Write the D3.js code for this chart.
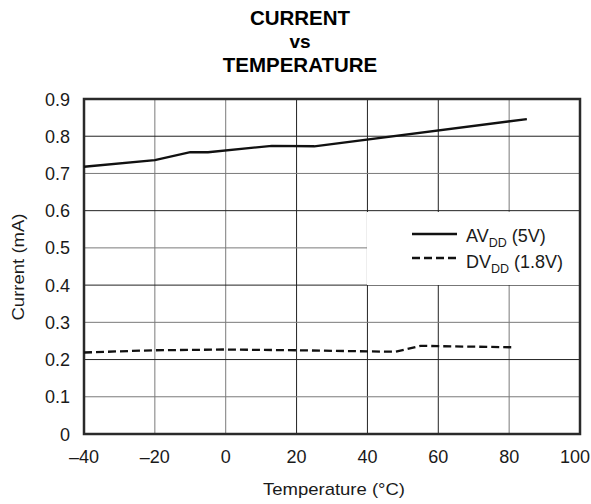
<!DOCTYPE html>
<html><head><meta charset="utf-8">
<script src="https://cdn.jsdelivr.net/npm/d3@7"></script>
<style>body{margin:0;background:#fff}svg{display:block}</style>
</head><body>
<svg id="c" width="591" height="504"></svg>
<script>
const titleLines = ["CURRENT", "vs", "TEMPERATURE"];
const xTicks = [-40, -20, 0, 20, 40, 60, 80, 100];
const yTicks = [0, 0.1, 0.2, 0.3, 0.4, 0.5, 0.6, 0.7, 0.8, 0.9];
const avddTemp = [-40, -20, -10, -5, 13, 25, 85];
const avddCurrent = [0.718, 0.736, 0.757, 0.757, 0.774, 0.773, 0.846];
const dvddTemp = [-40, -20, 0, 20, 40, 48, 55, 60, 81];
const dvddCurrent = [0.219, 0.225, 0.227, 0.225, 0.222, 0.221, 0.237, 0.236, 0.233];

const svg = d3.select("#c");
const m = {l: 84, r: 580, t: 99, b: 434};
const x = d3.scaleLinear().domain([-40, 100]).range([m.l, m.r]);
const y = d3.scaleLinear().domain([0, 0.9]).range([m.b, m.t]);
const font = "'Liberation Sans', Arial, sans-serif";
const ink = "#1a1a1a";

// title
const titleY = [25, 48, 72];
svg.selectAll("text.title").data(titleLines).enter().append("text")
  .attr("x", 300).attr("y", (d, i) => titleY[i])
  .attr("text-anchor", "middle").attr("font-family", font)
  .attr("font-weight", "bold").attr("font-size", (d, i) => i === 1 ? 19 : 20.5)
  .attr("fill", "#000").text(d => d);

// grid
const g = svg.append("g");
g.selectAll("line.vx").data(xTicks.slice(1, -1)).enter().append("line")
  .attr("x1", d => x(d)).attr("x2", d => x(d)).attr("y1", m.t).attr("y2", m.b)
  .attr("stroke", (d, i) => (i < 2 || i === 5) ? "#7a7a7a" : "#222").attr("stroke-width", 1);
g.selectAll("line.hy").data(yTicks.slice(1, -1)).enter().append("line")
  .attr("y1", d => y(d)).attr("y2", d => y(d)).attr("x1", m.l).attr("x2", m.r)
  .attr("stroke", (d, i) => (i % 2 === 1) ? "#222" : "#7a7a7a").attr("stroke-width", 1);

// legend box (covers grid)
svg.append("rect").attr("x", 367).attr("y", 212).attr("width", m.r - 367).attr("height", 73)
  .attr("fill", "#fff");

// frame
svg.append("rect").attr("x", m.l).attr("y", m.t).attr("width", m.r - m.l).attr("height", m.b - m.t)
  .attr("fill", "none").attr("stroke", "#2a2a2a").attr("stroke-width", 2.5);

// lines
const line = d3.line().x(d => x(d[0])).y(d => y(d[1]));
svg.append("path").datum(avddTemp.map((t, i) => [t, avddCurrent[i]]))
  .attr("d", line).attr("fill", "none").attr("stroke", "#111").attr("stroke-width", 2.3);
svg.append("path").datum(dvddTemp.map((t, i) => [t, dvddCurrent[i]]))
  .attr("d", line).attr("fill", "none").attr("stroke", "#111").attr("stroke-width", 2.3)
  .attr("stroke-dasharray", "8,4");

// axes labels
svg.selectAll("text.xt").data(xTicks).enter().append("text")
  .attr("x", (d, i) => i === xTicks.length - 1 ? 590 : x(d)).attr("y", 463)
  .attr("text-anchor", (d, i) => i === xTicks.length - 1 ? "end" : "middle")
  .attr("font-family", font).attr("font-size", 18).attr("fill", ink)
  .text(d => d < 0 ? "\u2013" + Math.abs(d) : d);
svg.selectAll("text.yt").data(yTicks).enter().append("text")
  .attr("x", 70).attr("y", d => y(d) + 6.5).attr("text-anchor", "end")
  .attr("font-family", font).attr("font-size", 18).attr("fill", ink)
  .text(d => d === 0 ? "0" : d.toFixed(1));
svg.append("text").attr("x", 334).attr("y", 495).attr("text-anchor", "middle")
  .attr("font-family", font).attr("font-size", 17).attr("fill", ink)
  .attr("textLength", 142).attr("lengthAdjust", "spacingAndGlyphs")
  .text("Temperature (\u00B0C)");
svg.append("text").attr("transform", "translate(24,267) rotate(-90)").attr("text-anchor", "middle")
  .attr("font-family", font).attr("font-size", 17).attr("fill", ink)
  .attr("textLength", 107).attr("lengthAdjust", "spacingAndGlyphs")
  .text("Current (mA)");

// legend
const leg = [
  {main: "AV", sub: "DD", rest: " (5V)", dash: null, y: 234, tb: 242},
  {main: "DV", sub: "DD", rest: " (1.8V)", dash: "8,4", y: 258, tb: 268}
];
leg.forEach(l => {
  svg.append("line").attr("x1", 412).attr("x2", 457).attr("y1", l.y).attr("y2", l.y)
    .attr("stroke", "#111").attr("stroke-width", 2.3).attr("stroke-dasharray", l.dash);
  const t = svg.append("text").attr("x", 466).attr("y", l.tb)
    .attr("font-family", font).attr("font-size", 18).attr("fill", ink);
  t.append("tspan").text(l.main);
  t.append("tspan").attr("dy", 5).attr("font-size", 12.5).text(l.sub);
  t.append("tspan").attr("dy", -5).text(l.rest);
});
</script>
</body></html>
